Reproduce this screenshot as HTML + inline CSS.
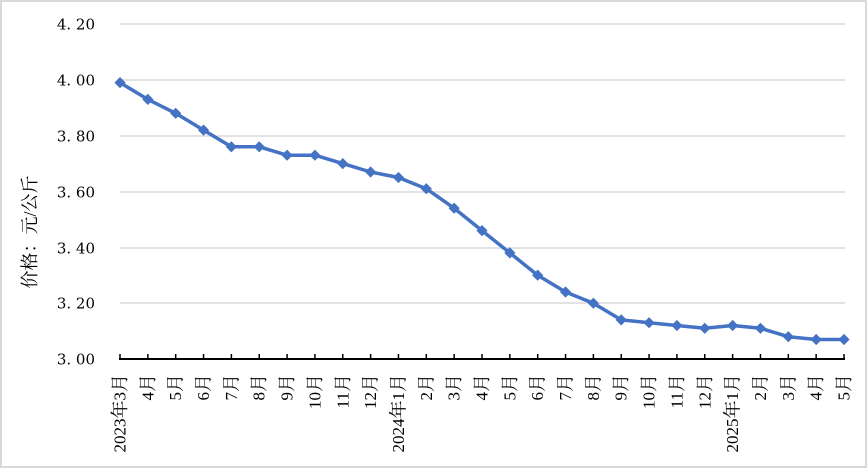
<!DOCTYPE html>
<html><head><meta charset="utf-8"><style>
html,body{margin:0;padding:0;background:#fff;}
svg{display:block;}
</style></head><body>
<svg width="868" height="469" viewBox="0 0 868 469" xmlns="http://www.w3.org/2000/svg">
<rect x="1" y="1" width="865" height="466" fill="#fff" stroke="#D9D9D9" stroke-width="2"/>
<g stroke="#D9D9D9" stroke-width="1.5">
<line x1="120" y1="24" x2="845" y2="24"/>
<line x1="120" y1="80" x2="845" y2="80"/>
<line x1="120" y1="136" x2="845" y2="136"/>
<line x1="120" y1="192" x2="845" y2="192"/>
<line x1="120" y1="248" x2="845" y2="248"/>
<line x1="120" y1="303" x2="845" y2="303"/>
</g>
<g font-family="'DejaVu Serif','Liberation Serif',serif" font-size="15" fill="#000" text-anchor="end">
<text x="95" y="29.5">4. 20</text>
<text x="95" y="85.5">4. 00</text>
<text x="95" y="141.5">3. 80</text>
<text x="95" y="197.5">3. 60</text>
<text x="95" y="253.5">3. 40</text>
<text x="95" y="308.5">3. 20</text>
<text x="95" y="364.5">3. 00</text>
</g>
<text transform="translate(30,232) rotate(-90)" text-anchor="middle" dominant-baseline="central" font-family="'Liberation Serif','Noto Serif CJK SC',serif" font-size="18" fill="#000">价格：元/公斤</text>
<g stroke="#000" stroke-width="2">
<line x1="119" y1="359" x2="845" y2="359"/>
</g>
<g stroke="#000" stroke-width="1.5">
<line x1="120" y1="354" x2="120" y2="359"/><line x1="147.85" y1="354" x2="147.85" y2="359"/><line x1="175.69" y1="354" x2="175.69" y2="359"/><line x1="203.54" y1="354" x2="203.54" y2="359"/><line x1="231.38" y1="354" x2="231.38" y2="359"/><line x1="259.23" y1="354" x2="259.23" y2="359"/><line x1="287.08" y1="354" x2="287.08" y2="359"/><line x1="314.92" y1="354" x2="314.92" y2="359"/><line x1="342.77" y1="354" x2="342.77" y2="359"/><line x1="370.62" y1="354" x2="370.62" y2="359"/><line x1="398.46" y1="354" x2="398.46" y2="359"/><line x1="426.31" y1="354" x2="426.31" y2="359"/><line x1="454.15" y1="354" x2="454.15" y2="359"/><line x1="482" y1="354" x2="482" y2="359"/><line x1="509.85" y1="354" x2="509.85" y2="359"/><line x1="537.69" y1="354" x2="537.69" y2="359"/><line x1="565.54" y1="354" x2="565.54" y2="359"/><line x1="593.38" y1="354" x2="593.38" y2="359"/><line x1="621.23" y1="354" x2="621.23" y2="359"/><line x1="649.08" y1="354" x2="649.08" y2="359"/><line x1="676.92" y1="354" x2="676.92" y2="359"/><line x1="704.77" y1="354" x2="704.77" y2="359"/><line x1="732.62" y1="354" x2="732.62" y2="359"/><line x1="760.46" y1="354" x2="760.46" y2="359"/><line x1="788.31" y1="354" x2="788.31" y2="359"/><line x1="816.15" y1="354" x2="816.15" y2="359"/><line x1="844" y1="354" x2="844" y2="359"/>
</g>
<polyline fill="none" stroke="#4472C4" stroke-width="3.5" stroke-linejoin="round" points="120,82.6 147.85,99.4 175.69,113.3 203.54,130.1 231.38,146.8 259.23,146.8 287.08,155.2 314.92,155.2 342.77,163.6 370.62,172 398.46,177.5 426.31,188.7 454.15,208.2 482,230.6 509.85,252.9 537.69,275.2 565.54,292 593.38,303.2 621.23,319.9 649.08,322.7 676.92,325.5 704.77,328.3 732.62,325.5 760.46,328.3 788.31,336.7 816.15,339.5 844,339.5"/>
<g fill="#4472C4">
<path d="M120,77l5.6,5.6l-5.6,5.6l-5.6,-5.6z"/>
<path d="M147.85,93.8l5.6,5.6l-5.6,5.6l-5.6,-5.6z"/>
<path d="M175.69,107.7l5.6,5.6l-5.6,5.6l-5.6,-5.6z"/>
<path d="M203.54,124.5l5.6,5.6l-5.6,5.6l-5.6,-5.6z"/>
<path d="M231.38,141.2l5.6,5.6l-5.6,5.6l-5.6,-5.6z"/>
<path d="M259.23,141.2l5.6,5.6l-5.6,5.6l-5.6,-5.6z"/>
<path d="M287.08,149.6l5.6,5.6l-5.6,5.6l-5.6,-5.6z"/>
<path d="M314.92,149.6l5.6,5.6l-5.6,5.6l-5.6,-5.6z"/>
<path d="M342.77,158l5.6,5.6l-5.6,5.6l-5.6,-5.6z"/>
<path d="M370.62,166.4l5.6,5.6l-5.6,5.6l-5.6,-5.6z"/>
<path d="M398.46,171.9l5.6,5.6l-5.6,5.6l-5.6,-5.6z"/>
<path d="M426.31,183.1l5.6,5.6l-5.6,5.6l-5.6,-5.6z"/>
<path d="M454.15,202.6l5.6,5.6l-5.6,5.6l-5.6,-5.6z"/>
<path d="M482,225l5.6,5.6l-5.6,5.6l-5.6,-5.6z"/>
<path d="M509.85,247.3l5.6,5.6l-5.6,5.6l-5.6,-5.6z"/>
<path d="M537.69,269.6l5.6,5.6l-5.6,5.6l-5.6,-5.6z"/>
<path d="M565.54,286.4l5.6,5.6l-5.6,5.6l-5.6,-5.6z"/>
<path d="M593.38,297.6l5.6,5.6l-5.6,5.6l-5.6,-5.6z"/>
<path d="M621.23,314.3l5.6,5.6l-5.6,5.6l-5.6,-5.6z"/>
<path d="M649.08,317.1l5.6,5.6l-5.6,5.6l-5.6,-5.6z"/>
<path d="M676.92,319.9l5.6,5.6l-5.6,5.6l-5.6,-5.6z"/>
<path d="M704.77,322.7l5.6,5.6l-5.6,5.6l-5.6,-5.6z"/>
<path d="M732.62,319.9l5.6,5.6l-5.6,5.6l-5.6,-5.6z"/>
<path d="M760.46,322.7l5.6,5.6l-5.6,5.6l-5.6,-5.6z"/>
<path d="M788.31,331.1l5.6,5.6l-5.6,5.6l-5.6,-5.6z"/>
<path d="M816.15,333.9l5.6,5.6l-5.6,5.6l-5.6,-5.6z"/>
<path d="M844,333.9l5.6,5.6l-5.6,5.6l-5.6,-5.6z"/>
</g>
<g font-family="'Liberation Serif','Noto Serif CJK SC',serif" font-size="17" fill="#000" text-anchor="end" dominant-baseline="central">
<text transform="translate(120,374) rotate(-90)">2023<tspan font-size="18">年</tspan>3<tspan font-size="18">月</tspan></text>
<text transform="translate(147.85,374) rotate(-90)">4<tspan font-size="18">月</tspan></text>
<text transform="translate(175.69,374) rotate(-90)">5<tspan font-size="18">月</tspan></text>
<text transform="translate(203.54,374) rotate(-90)">6<tspan font-size="18">月</tspan></text>
<text transform="translate(231.38,374) rotate(-90)">7<tspan font-size="18">月</tspan></text>
<text transform="translate(259.23,374) rotate(-90)">8<tspan font-size="18">月</tspan></text>
<text transform="translate(287.08,374) rotate(-90)">9<tspan font-size="18">月</tspan></text>
<text transform="translate(314.92,374) rotate(-90)">10<tspan font-size="18">月</tspan></text>
<text transform="translate(342.77,374) rotate(-90)">11<tspan font-size="18">月</tspan></text>
<text transform="translate(370.62,374) rotate(-90)">12<tspan font-size="18">月</tspan></text>
<text transform="translate(398.46,374) rotate(-90)">2024<tspan font-size="18">年</tspan>1<tspan font-size="18">月</tspan></text>
<text transform="translate(426.31,374) rotate(-90)">2<tspan font-size="18">月</tspan></text>
<text transform="translate(454.15,374) rotate(-90)">3<tspan font-size="18">月</tspan></text>
<text transform="translate(482,374) rotate(-90)">4<tspan font-size="18">月</tspan></text>
<text transform="translate(509.85,374) rotate(-90)">5<tspan font-size="18">月</tspan></text>
<text transform="translate(537.69,374) rotate(-90)">6<tspan font-size="18">月</tspan></text>
<text transform="translate(565.54,374) rotate(-90)">7<tspan font-size="18">月</tspan></text>
<text transform="translate(593.38,374) rotate(-90)">8<tspan font-size="18">月</tspan></text>
<text transform="translate(621.23,374) rotate(-90)">9<tspan font-size="18">月</tspan></text>
<text transform="translate(649.08,374) rotate(-90)">10<tspan font-size="18">月</tspan></text>
<text transform="translate(676.92,374) rotate(-90)">11<tspan font-size="18">月</tspan></text>
<text transform="translate(704.77,374) rotate(-90)">12<tspan font-size="18">月</tspan></text>
<text transform="translate(732.62,374) rotate(-90)">2025<tspan font-size="18">年</tspan>1<tspan font-size="18">月</tspan></text>
<text transform="translate(760.46,374) rotate(-90)">2<tspan font-size="18">月</tspan></text>
<text transform="translate(788.31,374) rotate(-90)">3<tspan font-size="18">月</tspan></text>
<text transform="translate(816.15,374) rotate(-90)">4<tspan font-size="18">月</tspan></text>
<text transform="translate(844,374) rotate(-90)">5<tspan font-size="18">月</tspan></text>
</g>
</svg>
</body></html>
